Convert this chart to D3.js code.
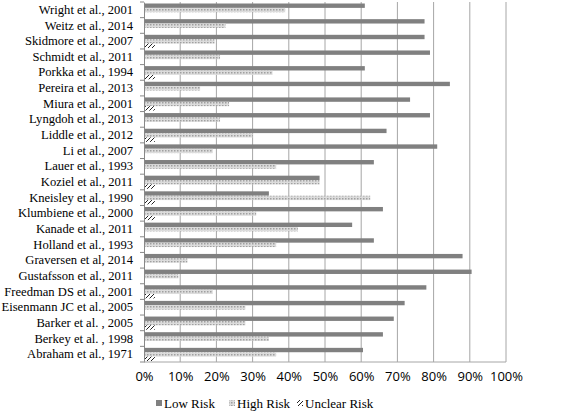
<!DOCTYPE html>
<html><head><meta charset="utf-8">
<script src="https://cdn.jsdelivr.net/npm/d3@7"></script>
<style>body{margin:0;background:#fff}</style></head>
<body><svg id="c" width="567" height="417"></svg>
<script>
const studies=["Wright et al., 2001","Weitz et al., 2014","Skidmore et al., 2007","Schmidt et al., 2011","Porkka et al., 1994","Pereira et al., 2013","Miura et al., 2001","Lyngdoh et al., 2013","Liddle et al., 2012","Li et al., 2007","Lauer et al., 1993","Koziel et al., 2011","Kneisley et al., 1990","Klumbiene et al., 2000","Kanade et al., 2011","Holland et al., 1993","Graversen et al, 2014","Gustafsson et al., 2011","Freedman DS et al., 2001","Eisenmann JC et al., 2005","Barker et al. , 2005","Berkey et al. , 1998","Abraham et al., 1971"];
const lowRisk=[61,77.5,77.5,79,61,84.5,73.5,79,67,81,63.5,48.5,34.5,66,57.5,63.5,88,90.5,78,72,69,66,60.5];
const highRisk=[39,22.5,19.5,21,35.5,15.5,23.5,21,30,19,36.5,48.5,62.5,31,42.5,36.5,12,9.5,19,28,28,34.5,36.5];
const unclearRisk=[0,0,3,0,3,0,3,0,3,0,0,3,3,3,0,0,0,0,3,0,3,0,3];
const series=["Low Risk","High Risk","Unclear Risk"];
const ticks=[0,10,20,30,40,50,60,70,80,90,100];

const svg=d3.select("#c");
const defs=svg.append("defs");
const pd=defs.append("pattern").attr("id","dots").attr("patternUnits","userSpaceOnUse").attr("width",3).attr("height",3);
pd.append("rect").attr("width",3).attr("height",3).attr("fill","#dcdcdc");
pd.append("rect").attr("width",1.5).attr("height",1.5).attr("fill","#a0a0a0");
const ph=defs.append("pattern").attr("id","hatch").attr("patternUnits","userSpaceOnUse").attr("width",4).attr("height",4);
ph.append("rect").attr("width",4).attr("height",4).attr("fill","#fff");
ph.append("path").attr("d","M0,4L4,0M-1,1L1,-1M3,5L5,3").attr("stroke","#222").attr("stroke-width",1);
const fills=["#808080","url(#dots)","url(#hatch)"];

const x=d3.scaleLinear().domain([0,100]).range([144,506]);
const y=d3.scaleBand().domain(studies).range([2,362]);
const sub=d3.scaleBand().domain(series).range([1.5,y.bandwidth()-1]).paddingInner(0);

svg.append("g").selectAll("line").data(ticks.slice(1)).join("line")
 .attr("x1",d=>x(d)).attr("x2",d=>x(d)).attr("y1",2).attr("y2",362).attr("stroke","#a6a6a6");

const data=[lowRisk,highRisk,unclearRisk];
series.forEach((s,i)=>{
 svg.append("g").selectAll("rect").data(studies).join("rect")
  .attr("x",x(0)).attr("y",d=>y(d)+sub(s)).attr("height",sub.bandwidth())
  .attr("width",(d,j)=>x(data[i][j])-x(0)).attr("fill",fills[i]);
});

const ya=svg.append("g").attr("transform","translate(144,0)").call(d3.axisLeft(y).tickSize(0).tickPadding(11));
ya.select(".domain").attr("stroke","#888");
ya.selectAll("text").attr("font-family","Liberation Serif").attr("font-size","12.6px").attr("fill","#000");
svg.append("g").selectAll("line").data(d3.range(studies.length+1)).join("line")
 .attr("x1",140).attr("x2",144).attr("y1",i=>2+i*y.step()).attr("y2",i=>2+i*y.step()).attr("stroke","#888");
svg.append("line").attr("x1",144).attr("x2",506).attr("y1",362).attr("y2",362).attr("stroke","#a6a6a6");

const xa=svg.append("g").attr("transform","translate(0,362)").call(d3.axisBottom(x).tickValues(ticks).tickSize(0).tickPadding(10).tickFormat(d=>d+"%"));
xa.select(".domain").remove();
xa.selectAll("text").attr("font-family","Open Sans").attr("font-size","13px").attr("fill","#000");

const lg=svg.append("g").attr("font-family","Liberation Serif").attr("font-size","13px");
const lx=[156,229,297];
series.forEach((s,i)=>{
 lg.append("rect").attr("x",lx[i]).attr("y",400).attr("width",6).attr("height",6).attr("fill",fills[i]);
 lg.append("text").attr("x",lx[i]+8).attr("y",408).text(s);
});
</script></body></html>
